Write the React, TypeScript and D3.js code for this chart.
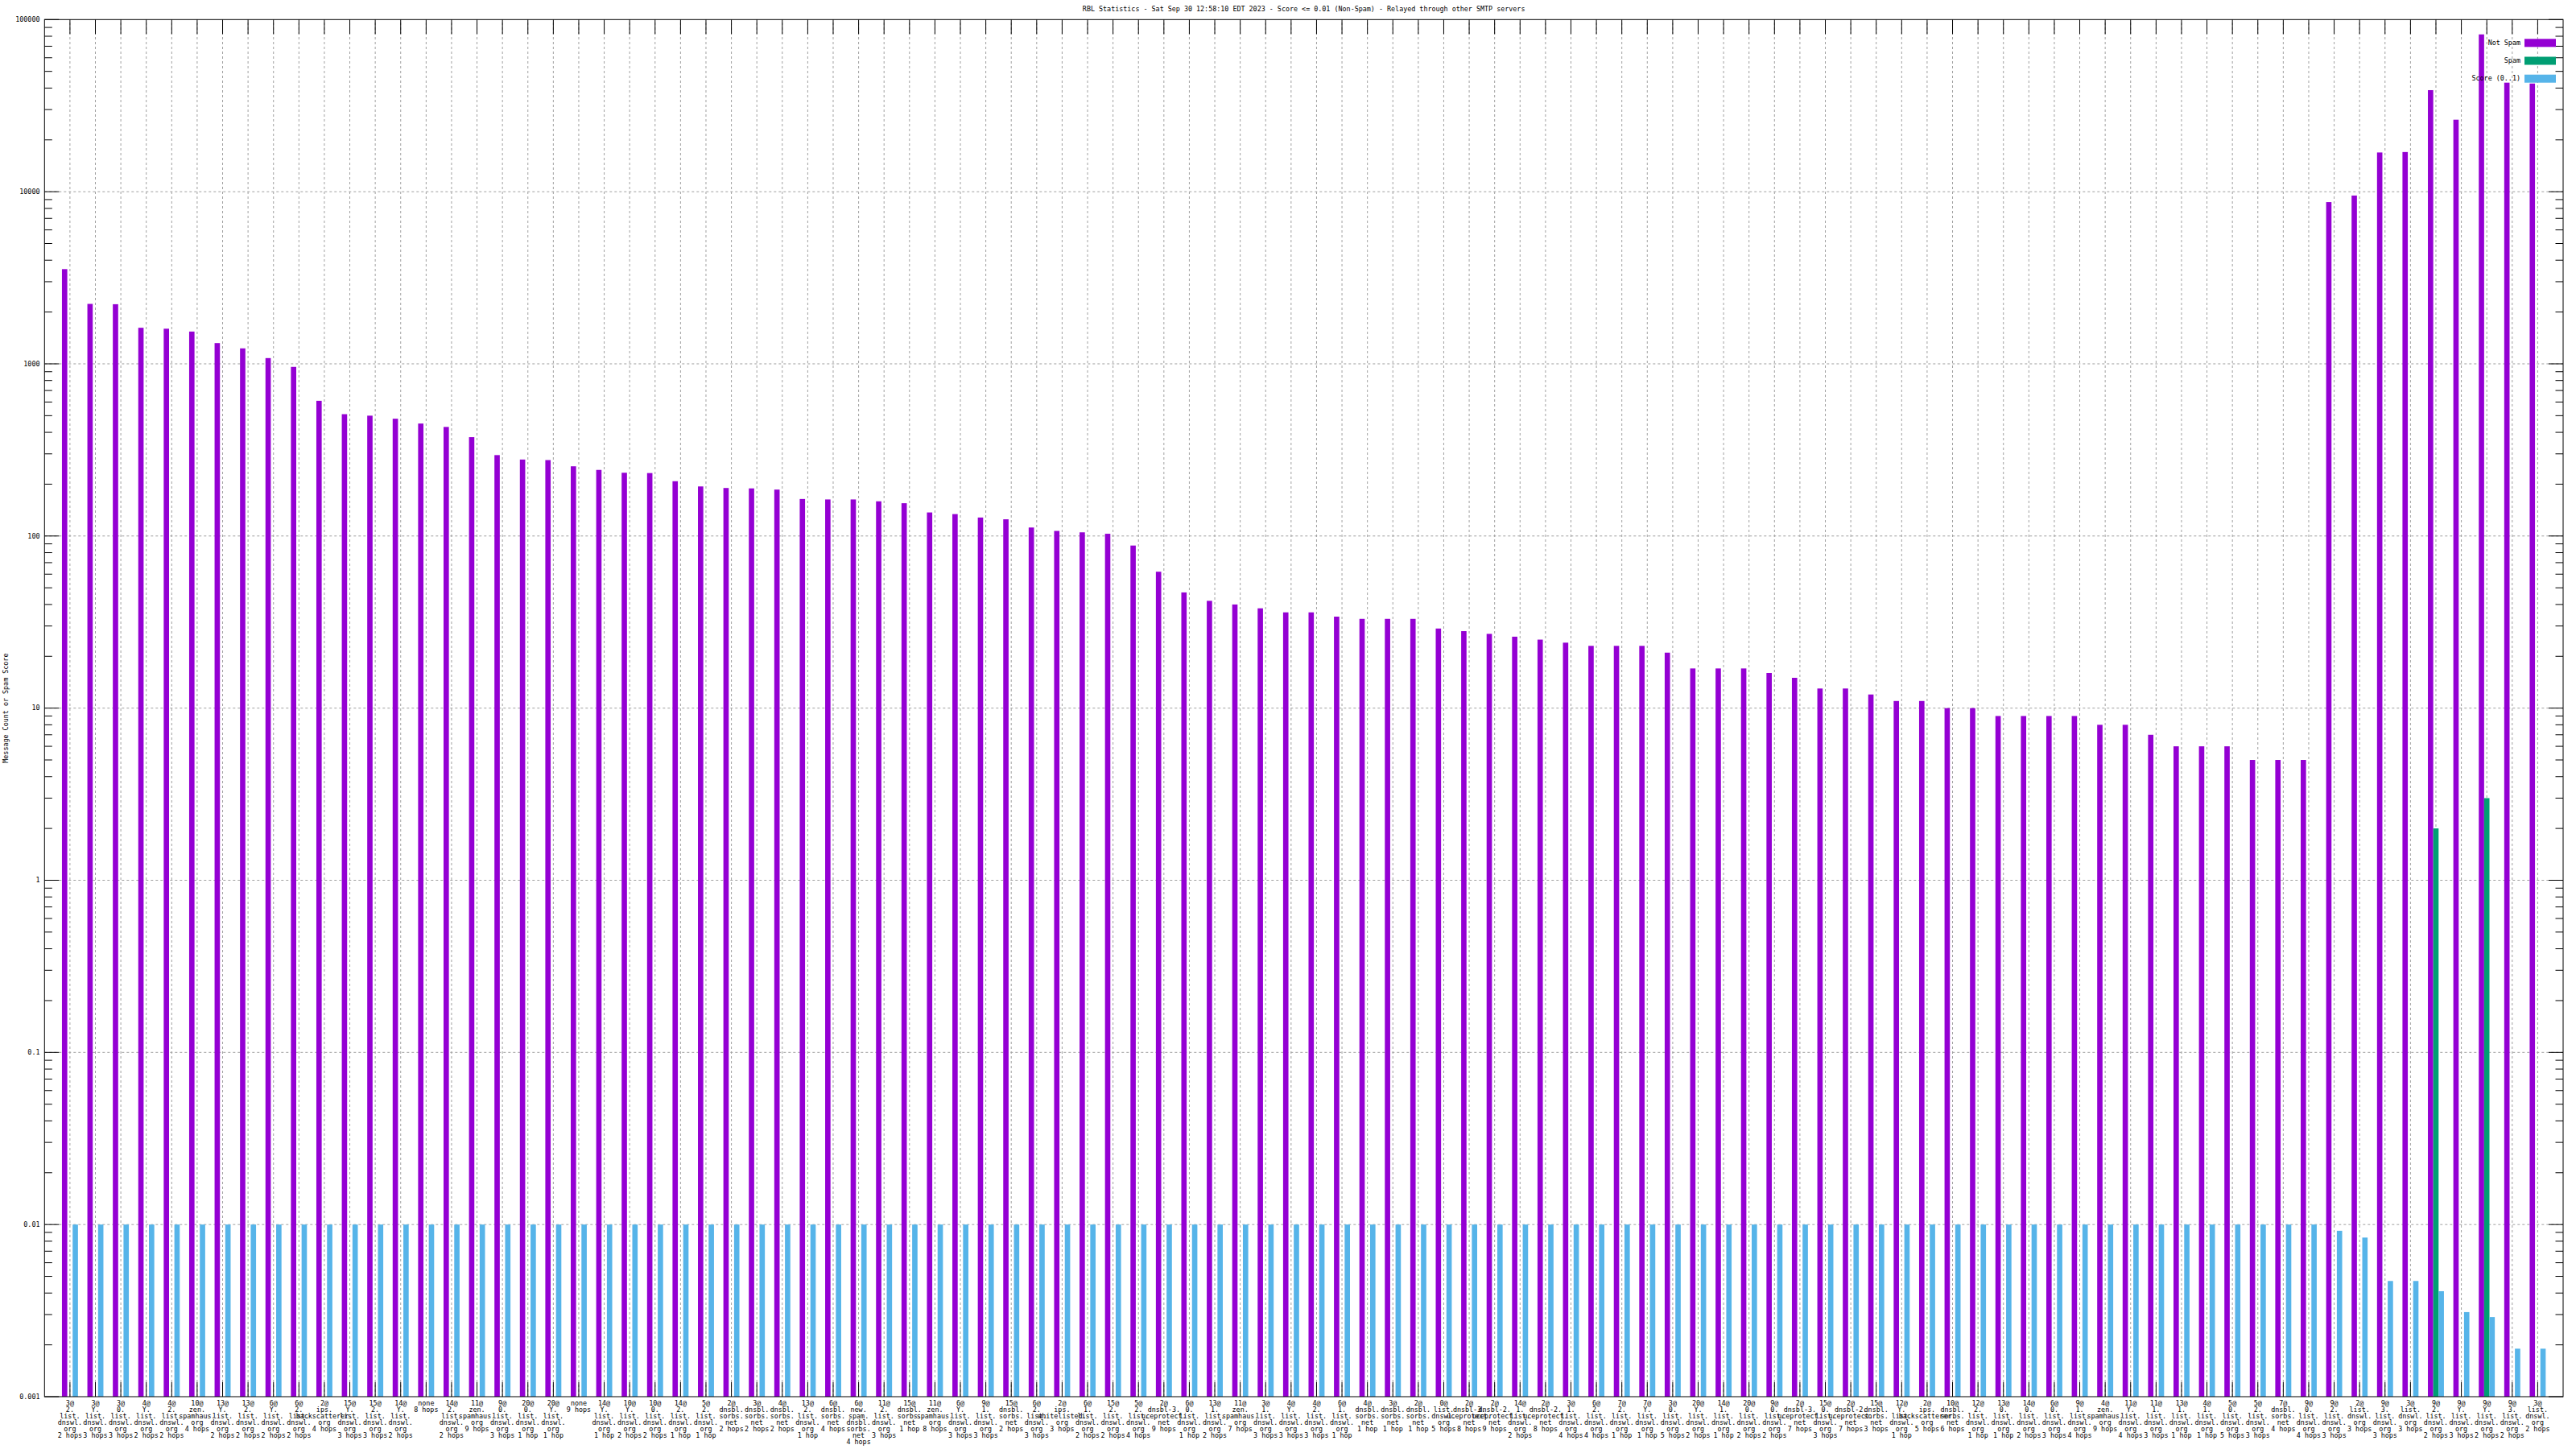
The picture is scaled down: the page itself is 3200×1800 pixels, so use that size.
import React, { useEffect } from 'react';
import * as d3 from 'd3';

const title =
  'RBL Statistics - Sat Sep 30 12:58:10 EDT 2023 - Score <= 0.01 (Non-Spam) - Relayed through other SMTP servers';
const yAxisTitle = 'Message Count or Spam Score';

// one entry per RBL result, in the order they appear on the x axis
const categories = [
  '3@2.list.dnswl.org 2 hops', '3@Y.list.dnswl.org 3 hops', '3@0.list.dnswl.org 3 hops',
  '4@Y.list.dnswl.org 2 hops', '4@2.list.dnswl.org 2 hops', '10@zen.spamhaus.org 4 hops',
  '13@Y.list.dnswl.org 2 hops', '13@2.list.dnswl.org 2 hops', '6@Y.list.dnswl.org 2 hops',
  '6@2.list.dnswl.org 2 hops', '2@ips.backscatterer.org 4 hops', '15@Y.list.dnswl.org 3 hops',
  '15@2.list.dnswl.org 3 hops', '14@Y.list.dnswl.org 2 hops', 'none 8 hops',
  '14@2.list.dnswl.org 2 hops', '11@zen.spamhaus.org 9 hops', '9@0.list.dnswl.org 3 hops',
  '20@0.list.dnswl.org 1 hop', '20@Y.list.dnswl.org 1 hop', 'none 9 hops',
  '14@Y.list.dnswl.org 1 hop', '10@Y.list.dnswl.org 2 hops', '10@0.list.dnswl.org 2 hops',
  '14@2.list.dnswl.org 1 hop', '5@2.list.dnswl.org 1 hop', '2@dnsbl.sorbs.net 2 hops',
  '3@dnsbl.sorbs.net 2 hops', '4@dnsbl.sorbs.net 2 hops', '13@2.list.dnswl.org 1 hop',
  '6@dnsbl.sorbs.net 4 hops', '6@new.spam.dnsbl.sorbs.net 4 hops', '11@2.list.dnswl.org 3 hops',
  '15@dnsbl.sorbs.net 1 hop', '11@zen.spamhaus.org 8 hops', '6@Y.list.dnswl.org 3 hops',
  '9@1.list.dnswl.org 3 hops', '15@dnsbl.sorbs.net 2 hops', '6@2.list.dnswl.org 3 hops',
  '2@ips.whitelisted.org 3 hops', '6@1.list.dnswl.org 2 hops', '15@2.list.dnswl.org 2 hops',
  '5@2.list.dnswl.org 4 hops', '2@dnsbl-3.uceprotect.net 9 hops', '6@0.list.dnswl.org 1 hop',
  '13@1.list.dnswl.org 2 hops', '11@zen.spamhaus.org 7 hops', '3@1.list.dnswl.org 3 hops',
  '4@Y.list.dnswl.org 3 hops', '4@2.list.dnswl.org 3 hops', '6@1.list.dnswl.org 1 hop',
  '4@dnsbl.sorbs.net 1 hop', '3@dnsbl.sorbs.net 1 hop', '2@dnsbl.sorbs.net 1 hop',
  '0@list.dnswl.org 5 hops', '2@dnsbl-3.uceprotect.net 8 hops', '2@dnsbl-2.uceprotect.net 9 hops',
  '14@1.list.dnswl.org 2 hops', '2@dnsbl-2.uceprotect.net 8 hops', '3@1.list.dnswl.org 4 hops',
  '6@2.list.dnswl.org 4 hops', '7@2.list.dnswl.org 1 hop', '7@Y.list.dnswl.org 1 hop',
  '3@0.list.dnswl.org 5 hops', '20@Y.list.dnswl.org 2 hops', '14@1.list.dnswl.org 1 hop',
  '20@0.list.dnswl.org 2 hops', '9@0.list.dnswl.org 2 hops', '2@dnsbl-3.uceprotect.net 7 hops',
  '15@0.list.dnswl.org 3 hops', '2@dnsbl-2.uceprotect.net 7 hops', '15@dnsbl.sorbs.net 3 hops',
  '12@Y.list.dnswl.org 1 hop', '2@ips.backscatterer.org 5 hops', '10@dnsbl.sorbs.net 6 hops',
  '12@2.list.dnswl.org 1 hop', '13@0.list.dnswl.org 1 hop', '14@0.list.dnswl.org 2 hops',
  '6@0.list.dnswl.org 3 hops', '9@1.list.dnswl.org 4 hops', '4@zen.spamhaus.org 9 hops',
  '11@Y.list.dnswl.org 4 hops', '11@1.list.dnswl.org 3 hops', '13@1.list.dnswl.org 1 hop',
  '4@1.list.dnswl.org 1 hop', '5@0.list.dnswl.org 5 hops', '5@2.list.dnswl.org 3 hops',
  '7@dnsbl.sorbs.net 4 hops', '9@0.list.dnswl.org 4 hops', '9@2.list.dnswl.org 3 hops',
  '2@list.dnswl.org 3 hops', '9@3.list.dnswl.org 3 hops', '3@list.dnswl.org 3 hops',
  '9@2.list.dnswl.org 2 hops', '9@Y.list.dnswl.org 3 hops', '9@Y.list.dnswl.org 2 hops',
  '9@3.list.dnswl.org 2 hops', '3@list.dnswl.org 2 hops',
];

const notSpam = [
  3550, 2230, 2220, 1620, 1600, 1540, 1320, 1230, 1080, 960,
  610, 510, 500, 480, 450, 430, 375, 295, 278, 276,
  254, 242, 233, 232, 208, 194, 190, 189, 186, 164,
  163, 163, 159, 155, 137, 134, 128, 125, 112, 107,
  105, 103, 88, 62, 47, 42, 40, 38, 36, 36,
  34, 33, 33, 33, 29, 28, 27, 26, 25, 24,
  23, 23, 23, 21, 17, 17, 17, 16, 15, 13,
  13, 12, 11, 11, 10, 10, 9, 9, 9, 9,
  8, 8, 7, 6, 6, 6, 5, 5, 5, 8700,
  9500, 16900, 17000, 38900, 26200, 82000, 43000, 42500,
];

const spam = [
  0, 0, 0, 0, 0, 0, 0, 0, 0, 0,
  0, 0, 0, 0, 0, 0, 0, 0, 0, 0,
  0, 0, 0, 0, 0, 0, 0, 0, 0, 0,
  0, 0, 0, 0, 0, 0, 0, 0, 0, 0,
  0, 0, 0, 0, 0, 0, 0, 0, 0, 0,
  0, 0, 0, 0, 0, 0, 0, 0, 0, 0,
  0, 0, 0, 0, 0, 0, 0, 0, 0, 0,
  0, 0, 0, 0, 0, 0, 0, 0, 0, 0,
  0, 0, 0, 0, 0, 0, 0, 0, 0, 0,
  0, 0, 0, 2, 0, 3, 0, 0,
];

const score = [
  0.01, 0.01, 0.01, 0.01, 0.01, 0.01, 0.01, 0.01, 0.01, 0.01,
  0.01, 0.01, 0.01, 0.01, 0.01, 0.01, 0.01, 0.01, 0.01, 0.01,
  0.01, 0.01, 0.01, 0.01, 0.01, 0.01, 0.01, 0.01, 0.01, 0.01,
  0.01, 0.01, 0.01, 0.01, 0.01, 0.01, 0.01, 0.01, 0.01, 0.01,
  0.01, 0.01, 0.01, 0.01, 0.01, 0.01, 0.01, 0.01, 0.01, 0.01,
  0.01, 0.01, 0.01, 0.01, 0.01, 0.01, 0.01, 0.01, 0.01, 0.01,
  0.01, 0.01, 0.01, 0.01, 0.01, 0.01, 0.01, 0.01, 0.01, 0.01,
  0.01, 0.01, 0.01, 0.01, 0.01, 0.01, 0.01, 0.01, 0.01, 0.01,
  0.01, 0.01, 0.01, 0.01, 0.01, 0.01, 0.01, 0.01, 0.01, 0.0092,
  0.0084, 0.0047, 0.0047, 0.0041, 0.0031, 0.0029, 0.0019, 0.0019,
];

const seriesNames = ['Not Spam', 'Spam', 'Score (0..1)'];
const seriesColors = ['#9400d3', '#009e73', '#56b4e9'];
const yTicks = [0.001, 0.01, 0.1, 1, 10, 100, 1000, 10000, 100000];
const yTickLabels = ['0.001', '0.01', '0.1', '1', '10', '100', '1000', '10000', '100000'];

const W = 3200;
const H = 1800;
const FONT = '"DejaVu Sans Mono", "Liberation Mono", monospace';
const FS = 8.4;

// gnuplot breaks each label after "@" and every "." and before the hop count
const splitLabel = (s: string) =>
  s.replace(/@/, '@\n').replace(/\./g, '.\n').replace(/ (\d+ hops?)$/, '\n$1').split('\n');

const App: React.FC = () => {
  useEffect(() => {
    document.body.style.margin = '0';
  }, []);

  const left = 55.3;
  const right = 3184;
  const top = 24.3;
  const bottom = 1735;

  const x = d3.scaleLinear().domain([0, categories.length + 1]).range([left, right]);
  const y = d3.scaleLog().domain([0.001, 100000]).range([bottom, top]);
  const step = x(1) - x(0);
  const bw = step * 0.21;

  const series = [notSpam, spam, score];

  const minorTicks: number[] = [];
  yTicks.slice(0, -1).forEach((t) => {
    for (let m = 2; m <= 9; m++) minorTicks.push(t * m);
  });

  const majorLen = 18;
  const minorLen = 9.5;

  return (
    <svg width={W} height={H} style={{ display: 'block', background: '#fff' }} fontFamily={FONT} fontSize={FS}>
      <rect x={0} y={0} width={W} height={H} fill="#fff" />

      {/* grid */}
      <g stroke="#a0a0a0" strokeWidth={1} strokeDasharray="3 3">
        {yTicks.slice(1, -1).map((t) => (
          <line key={'gy' + t} x1={left} x2={right} y1={y(t)} y2={y(t)} />
        ))}
        {categories.map((c, i) => (
          <line key={'gx' + i} x1={x(i + 1)} x2={x(i + 1)} y1={bottom} y2={top} />
        ))}
      </g>

      {/* x ticks, bottom and mirrored at top */}
      <g stroke="#000" strokeWidth={1}>
        {categories.map((c, i) => (
          <g key={'tx' + i}>
            <line x1={x(i + 1)} x2={x(i + 1)} y1={bottom} y2={bottom - majorLen} />
            <line x1={x(i + 1)} x2={x(i + 1)} y1={top} y2={top + majorLen} />
          </g>
        ))}
        {yTicks.map((t) => (
          <g key={'ty' + t}>
            <line x1={left} x2={left + majorLen} y1={y(t)} y2={y(t)} />
            <line x1={right} x2={right - majorLen} y1={y(t)} y2={y(t)} />
          </g>
        ))}
        {minorTicks.map((t) => (
          <g key={'tm' + t}>
            <line x1={left} x2={left + minorLen} y1={y(t)} y2={y(t)} />
            <line x1={right} x2={right - minorLen} y1={y(t)} y2={y(t)} />
          </g>
        ))}
      </g>

      {/* bars */}
      {series.map((vals, s) => (
        <g key={'s' + s} fill={seriesColors[s]}>
          {vals.map((v, i) =>
            v > 0 ? (
              <rect
                key={i}
                x={x(i + 1) + (s - 1) * bw - bw / 2}
                y={y(v)}
                width={bw}
                height={bottom - y(v)}
              />
            ) : null
          )}
        </g>
      ))}

      {/* frame */}
      <rect x={left} y={top} width={right - left} height={bottom - top} fill="none" stroke="#000" strokeWidth={1} />

      {/* y tick labels */}
      {yTicks.map((t, i) => (
        <text key={'yl' + t} x={49.5} y={y(t)} dy="0.33em" textAnchor="end">
          {yTickLabels[i]}
        </text>
      ))}

      {/* x tick labels */}
      {categories.map((c, i) => (
        <text key={'xl' + i} x={x(i + 1)} y={bottom + 11} textAnchor="middle">
          {splitLabel(c).map((line, k) => (
            <tspan key={k} x={x(i + 1)} y={bottom + 11 + k * 8}>
              {line}
            </tspan>
          ))}
        </text>
      ))}

      {/* titles */}
      <text x={(left + right) / 2} y={14} textAnchor="middle">
        {title}
      </text>
      <text transform={`translate(10,${(top + bottom) / 2}) rotate(-90)`} textAnchor="middle">
        {yAxisTitle}
      </text>

      {/* legend */}
      {seriesNames.map((name, s) => {
        const cy = 53.3 + s * 22.2;
        return (
          <g key={'lg' + s}>
            <text x={3131} y={cy} dy="0.33em" textAnchor="end">
              {name}
            </text>
            <rect x={3136} y={cy - 5} width={39} height={10} fill={seriesColors[s]} />
          </g>
        );
      })}
    </svg>
  );
};

export default App;
